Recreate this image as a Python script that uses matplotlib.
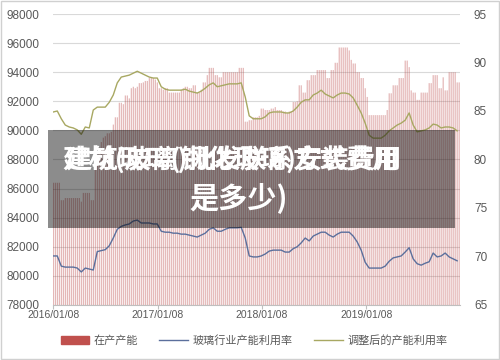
import numpy as np
import pandas as pd
import matplotlib
matplotlib.use('Agg')
import matplotlib.pyplot as plt
import matplotlib.dates as mdates
from matplotlib.patches import Rectangle, Patch
from matplotlib.lines import Line2D

plt.rcParams['font.family'] = ['Liberation Sans', 'Noto Sans CJK SC', 'DejaVu Sans']

# weekly dates, 2016/01/08 onward
weeks = pd.date_range('2016-01-08', periods=204, freq='7D')

# 在产产能 (left axis), one value per week
capacity = [
    86400, 86400, 86400, 86400, 85200, 85200, 85350, 85350, 85350, 85350, 85350, 85350, 85350,
    85350, 85100, 85700, 85700, 85700, 85700, 85200, 85200, 87500, 88200, 88800, 89200, 89500,
    89600, 89800, 89800, 89900, 90400, 90900, 90900, 91900, 91900, 91800, 92400, 92400, 92200,
    92900, 93000, 92900, 93000, 93250, 93250, 93300, 93400, 93400, 93600, 93600, 93600, 93500,
    93300, 92900, 92900, 92800, 92900, 92900, 92600, 92600, 92600, 92600, 92600, 92600, 92800,
    92900, 93000, 93000, 92900, 92900, 93100, 93100, 92600, 92600, 92800, 93300, 93300, 93800,
    94300, 94300, 94300, 93800, 93800, 93650, 93650, 94000, 94000, 94000, 94000, 94000, 94000,
    94000, 94000, 94300, 94300, 94300, 90600, 90600, 90700, 90700, 90900, 90900, 90900, 91000,
    91500, 91500, 91400, 91400, 91400, 91500, 91500, 91600, 91400, 91400, 91400, 91300, 91300,
    91200, 91300, 91300, 91950, 91950, 92000, 93100, 93100, 92600, 92600, 93450, 93450, 93800,
    93800, 93800, 94150, 94150, 94150, 94150, 94150, 93600, 93600, 94150, 94150, 94650, 94650,
    95700, 95700, 95700, 95700, 95700, 95500, 94850, 94600, 94600, 94000, 94000, 93600, 93600,
    92900, 92300, 91050, 91050, 91050, 91050, 91050, 91050, 91050, 91050, 91050, 91400, 92550,
    92550, 93100, 93100, 93100, 93600, 93600, 93600, 94800, 94800, 94350, 92750, 92600, 92600,
    92100, 92100, 92600, 92600, 92600, 92600, 93250, 93250, 93800, 93800, 93800, 92900, 92900,
    93650, 92750, 92750, 94000, 94000, 94000, 94000, 93300, 93300,
]

# 玻璃行业产能利用率 (right axis), every second week
util = [
    70.05, 70.05, 69.0, 68.9, 68.9, 68.9, 68.8, 68.4, 68.8, 68.7, 68.6, 70.5, 70.6,
    70.7, 71.1, 71.9, 72.8, 73.1, 73.25, 73.35, 73.65, 73.75, 73.45, 73.45, 73.45, 73.35,
    73.35, 72.6, 72.5, 72.5, 72.4, 72.4, 72.3, 72.3, 72.2, 72.1, 72.0, 72.2, 72.4,
    72.8, 72.95, 72.6, 72.6, 72.8, 72.95, 72.95, 72.95, 73.0, 71.9, 70.05, 69.95, 69.95,
    70.05, 70.25, 70.55, 70.65, 70.65, 70.65, 70.45, 70.45, 70.8, 71.0, 71.4, 71.9, 71.6,
    72.1, 72.3, 72.5, 72.5, 72.2, 72.0, 72.3, 72.5, 72.5, 72.5, 72.1, 71.5, 70.65,
    69.4, 68.8, 68.8, 68.8, 68.8, 69.0, 69.5, 69.85, 69.95, 70.05, 70.45, 70.9, 69.75,
    69.25, 69.1, 69.3, 69.45, 70.35, 69.95, 70.05, 70.35, 69.95, 69.75, 69.55,
]

# 调整后的产能利用率 (right axis), every second week
util_adj = [
    84.9, 85.0, 84.2, 83.55, 83.35, 83.25, 83.05, 82.6, 83.35, 83.25, 85.1, 85.4, 85.4,
    85.4, 85.9, 86.65, 87.9, 88.5, 88.6, 88.7, 88.9, 89.1, 88.9, 88.7, 88.5, 88.4,
    88.4, 87.5, 87.25, 87.15, 87.15, 87.15, 87.15, 87.25, 87.05, 86.95, 86.85, 87.05, 87.35,
    87.7, 87.9, 87.5, 87.6, 87.7, 87.8, 87.8, 87.8, 87.9, 86.45, 84.5, 84.2, 84.2,
    84.2, 84.4, 84.8, 84.9, 84.9, 84.9, 84.8, 84.8, 85.0, 85.4, 85.9, 86.15, 86.15,
    86.65, 86.85, 87.15, 86.75, 86.55, 86.35, 86.65, 86.85, 86.85, 86.75, 86.35, 85.6, 84.8,
    83.75, 82.5, 82.2, 82.2, 82.2, 82.5, 82.95, 83.25, 83.55, 83.75, 84.05, 84.8, 83.55,
    82.85, 82.95, 83.05, 83.25, 83.65, 83.55, 83.25, 83.35, 83.35, 83.25, 82.95,
]

year_ticks = ['2016-01-08', '2017-01-08', '2018-01-08', '2019-01-08']
legend_labels = ['在产产能', '玻璃行业产能利用率', '调整后的产能利用率']

red = '#c0504d'
blue = '#5b6f9c'
olive = '#a8a862'
grey_txt = '#595959'

fig = plt.figure(figsize=(5, 3.6), dpi=100)
ax = fig.add_axes([0.106, 0.153, 0.814, 0.808])
ax2 = ax.twinx()

# thin stripes, left antialiased so some come out darker than others
ax.bar(weeks, capacity, width=3.2, color=(0.72, 0.25, 0.25, 0.5),
       linewidth=0, snap=False, zorder=2)
ax2.plot(weeks[::2], util, color=blue, lw=1.0, zorder=3)
ax2.plot(weeks[::2], util_adj, color=olive, lw=1.0, zorder=3)

ax.set_ylim(78000, 98000)
ax.set_yticks(np.arange(78000, 98001, 2000))
ax2.set_ylim(65, 95)
ax2.set_yticks(np.arange(65, 96, 5))
ax.set_xlim(pd.Timestamp('2016-01-07'), pd.Timestamp('2019-12-02'))
ax.set_xticks(pd.to_datetime(year_ticks))
ax.xaxis.set_major_formatter(mdates.DateFormatter('%Y/%m/%d'))

ax.grid(axis='y', color='#d9d9d9', lw=0.8, zorder=0)
ax.set_axisbelow(True)
for a in (ax, ax2):
    for s in a.spines.values():
        s.set_visible(False)
    a.tick_params(axis='y', length=0, labelsize=8.5, labelcolor=grey_txt)
ax.spines['bottom'].set_visible(True)
ax.spines['bottom'].set_color('#bfbfbf')
ax.tick_params(axis='x', length=3, color='#bfbfbf', labelsize=7.5, labelcolor=grey_txt, pad=1)
ax.tick_params(axis='y', pad=10)
ax2.tick_params(axis='y', pad=10)

handles = [Patch(color=red), Line2D([], [], color=blue, lw=1.0), Line2D([], [], color=olive, lw=1.0)]
fig.legend(handles, legend_labels, loc='center', bbox_to_anchor=(0.508, 0.055), ncol=3,
           frameon=False, prop={'family': 'Noto Sans CJK SC', 'size': 8},
           labelcolor=grey_txt, handlelength=2.6, columnspacing=1.9, handletextpad=0.4)

# dark banner with the overlapping white title
fig.patches.append(Rectangle((0.096, 0.367), 0.814, 0.272, transform=fig.transFigure,
                             facecolor='black', alpha=0.45, zorder=10))
title_font = dict(family=['Noto Sans CJK SC', 'DejaVu Sans'], fontweight='bold',
                  color='white', ha='center', va='center', zorder=11)
fig.text(0.462, 0.555, '建材(玻璃)批发联系方式费用', fontsize=19, **title_font)
fig.text(0.468, 0.555, '建筑玻璃(钢化玻璃)安装费用', fontsize=19, **title_font)
fig.text(0.478, 0.450, '是多少)', fontsize=21, **title_font)

fig.patches.append(Rectangle((0.002, 0.004), 0.995, 0.992, transform=fig.transFigure,
                             facecolor='none', edgecolor='#d0d0d0', lw=1.0, zorder=12))

fig.savefig('out.png', dpi=100)
